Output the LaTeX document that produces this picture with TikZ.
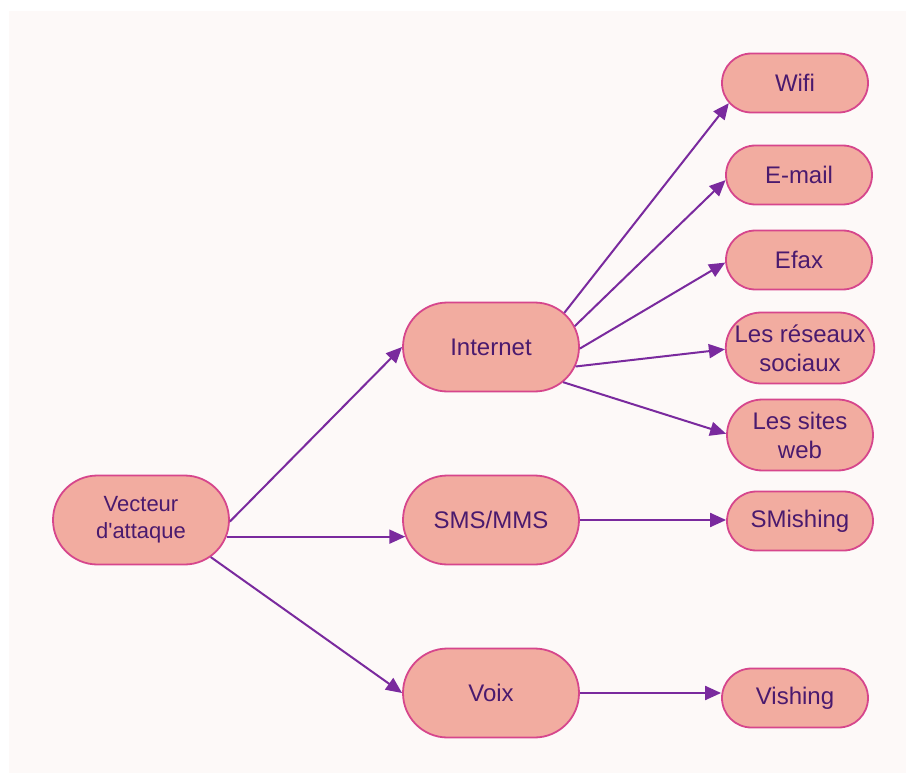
\documentclass[tikz,border=0pt]{standalone}
\usepackage{fontspec}
\setmainfont{Liberation Sans}
\usetikzlibrary{shapes.misc,arrows.meta}
\definecolor{panelbg}{HTML}{FDF9F8}
\definecolor{boxfill}{HTML}{F2ACA0}
\definecolor{boxline}{HTML}{D6468C}
\definecolor{arrowc}{HTML}{7A2A9E}
\definecolor{textc}{HTML}{4A1A6E}
\begin{document}
\begin{tikzpicture}[x=1pt,y=-1pt,
  box/.style={rounded rectangle, draw=boxline, fill=boxfill, line width=1.8pt,
    text=textc, align=center, inner sep=0pt,
    font=\fontsize{24}{29}\selectfont},
  bigbox/.style={box, minimum width=176pt, minimum height=89pt},
  leafbox/.style={box, minimum width=146pt, minimum height=59pt},
  tallbox/.style={leafbox, minimum height=71pt},
  conn/.style={draw=arrowc, line width=2pt, -{Triangle[length=16pt,width=14pt]}}
]
\useasboundingbox (0,0) rectangle (906,773);
\fill[white] (0,0) rectangle (906,773);
\fill[panelbg] (9,11) rectangle (906,773);

% root
\node[bigbox, font=\fontsize{22}{27}\selectfont] (vec) at (141,520) {Vecteur\\d\textquotesingle attaque};

% channels
\node[bigbox] (internet) at (491,347) {Internet};
\node[bigbox] (sms) at (491,520) {SMS/MMS};
\node[bigbox] (voix) at (491,693) {Voix};

% attack forms
\node[leafbox] (wifi) at (795,83) {Wifi};
\node[leafbox] (email) at (799,175) {E-mail};
\node[leafbox] (efax) at (799,260) {Efax};
\node[tallbox] (reseaux) at (800,348) {Les réseaux\\sociaux};
\node[tallbox] (sites) at (800,435) {Les sites\\web};
\node[leafbox] (smishing) at (800,521) {SMishing};
\node[leafbox] (vishing) at (795,698) {Vishing};

% connectors
\draw[conn] (vec.-1) -- (internet.180);
\draw[conn] (vec.-11) -- (sms.191);
\draw[conn] (vec.-28) -- (voix.180);

\draw[conn] (internet.25) -- (wifi.197);
\draw[conn] (internet.14) -- (email.184);
\draw[conn] (internet.-1) -- (efax.182);
\draw[conn] (internet.-13) -- (reseaux.181);
\draw[conn] (internet.-26) -- (sites.179);
\draw[conn] (sms.east) -- (sms.east -| smishing.west);
\draw[conn] (voix.east) -- (voix.east -| vishing.west);
\end{tikzpicture}
\end{document}
